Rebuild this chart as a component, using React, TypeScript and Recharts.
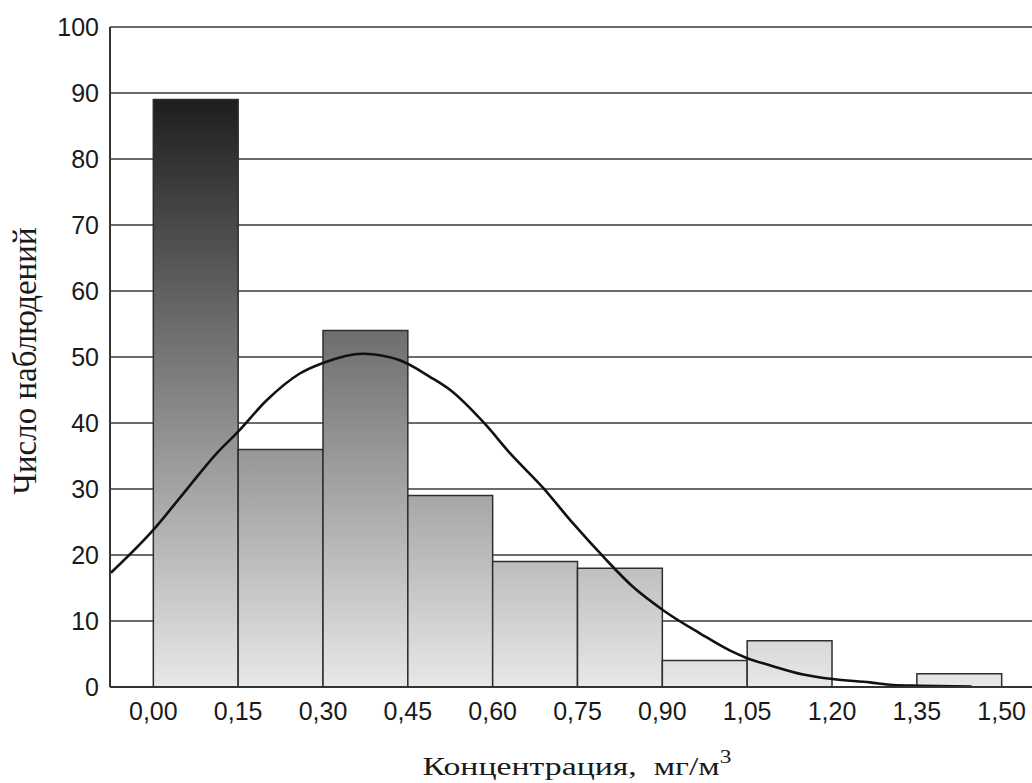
import React from 'react';
import { ComposedChart, Line, XAxis, YAxis, CartesianGrid, ReferenceArea } from 'recharts';

// Histogram bins (mg/m3) and counts
const binStarts = [0.0, 0.15, 0.3, 0.45, 0.6, 0.75, 0.9, 1.05, 1.2, 1.35];
const binEnds = [0.15, 0.3, 0.45, 0.6, 0.75, 0.9, 1.05, 1.2, 1.35, 1.5];
const counts = [89, 36, 54, 29, 19, 18, 4, 7, 0, 2];

// Fitted normal curve
const curveX = [-0.075, 0.0, 0.053, 0.112, 0.15, 0.2, 0.259, 0.3, 0.371, 0.436, 0.489, 0.525, 0.586, 0.631, 0.69, 0.743, 0.796, 0.849, 0.902, 0.967, 1.02, 1.049, 1.09, 1.149, 1.201, 1.267, 1.308, 1.356, 1.447];
const curveY = [17.3, 23.8, 29.3, 35.4, 38.7, 43.4, 47.5, 49.1, 50.5, 49.5, 47.0, 45.0, 39.9, 35.4, 30.1, 24.7, 19.7, 15.1, 11.6, 8.1, 5.5, 4.4, 3.3, 1.9, 1.2, 0.7, 0.3, 0.2, 0.07];

const xTicks = [0.0, 0.15, 0.3, 0.45, 0.6, 0.75, 0.9, 1.05, 1.2, 1.35, 1.5];
const yTicks = [0, 10, 20, 30, 40, 50, 60, 70, 80, 90, 100];
const xDomain = [-0.0766, 1.5536];

const curveData = curveX.map((x, i) => ({ x, y: curveY[i] }));
const bins = binStarts.map((s, i) => ({ s, e: binEnds[i], c: counts[i] }));

const fmt = (v: number) => v.toFixed(2).replace('.', ',');

const XLabel = (props: any) => {
  const vb = props.viewBox;
  const cx = vb.x + vb.width / 2 + 6;
  const y = vb.y + vb.height - 8;
  return (
    <g transform={`translate(${cx}, ${y}) scale(1.3, 1)`}>
      <text x={0} y={0} textAnchor="middle" fontFamily="'Liberation Serif', 'Times New Roman', serif" fontSize={26} fill="#1a1a1a" style={{ whiteSpace: 'pre' }}>
        {'Концентрация,  мг/м'}
        <tspan dy={-12} fontSize={18}>3</tspan>
      </text>
    </g>
  );
};

const YLabel = (props: any) => {
  const vb = props.viewBox;
  const x = 25;
  const cy = vb.y + vb.height / 2 + 4;
  return (
    <text x={x} y={cy} textAnchor="middle" dominantBaseline="central" transform={`rotate(-90, ${x}, ${cy})`} fontFamily="'Liberation Serif', 'Times New Roman', serif" fontSize={33} fill="#1a1a1a">
      Число наблюдений
    </text>
  );
};

export default function App() {
  return (
    <div style={{ position: 'absolute', left: 0, top: 0, width: 1032, height: 783, background: '#fff' }}>
      <ComposedChart width={1032} height={783} data={curveData} margin={{ top: 27, right: 0, bottom: 0, left: 0 }}>
        <defs>
          <linearGradient id="barGrad" gradientUnits="userSpaceOnUse" x1={0} y1={27} x2={0} y2={687}>
            <stop offset="0%" stopColor="#050505" />
            <stop offset="100%" stopColor="#e8e8e8" />
          </linearGradient>
        </defs>
        <CartesianGrid vertical={false} stroke="#3a3a3a" strokeWidth={1.3} />
        <XAxis
          dataKey="x"
          type="number"
          domain={xDomain}
          allowDataOverflow
          ticks={xTicks}
          tickFormatter={fmt}
          tickLine={false}
          tickMargin={9}
          height={96}
          axisLine={{ stroke: '#333', strokeWidth: 2 }}
          tick={{ fontFamily: "'Liberation Sans', Arial, sans-serif", fontSize: 25, fill: '#1a1a1a' }}
          label={<XLabel />}
        />
        <XAxis
          xAxisId="top"
          orientation="top"
          type="number"
          domain={xDomain}
          allowDataOverflow
          ticks={xTicks}
          mirror
          height={0}
          tickSize={5}
          tick={() => <g />}
          tickLine={{ stroke: '#333', strokeWidth: 1.3 }}
          axisLine={{ stroke: '#333', strokeWidth: 2 }}
        />
        <YAxis
          type="number"
          domain={[0, 100]}
          ticks={yTicks}
          width={110}
          tickLine={false}
          tickMargin={5}
          axisLine={{ stroke: '#333', strokeWidth: 2 }}
          tick={{ fontFamily: "'Liberation Sans', Arial, sans-serif", fontSize: 25, fill: '#1a1a1a' }}
          label={<YLabel />}
        />
        {bins.filter(b => b.c > 0).map((b, i) => (
          <ReferenceArea
            key={i}
            x1={b.s}
            x2={b.e}
            y1={0}
            y2={b.c}
            fill="url(#barGrad)"
            fillOpacity={1}
            stroke="#2e2e2e"
            strokeWidth={1.5}
          />
        ))}
        <Line
          dataKey="y"
          type="monotone"
          stroke="#111"
          strokeWidth={2.6}
          dot={false}
          activeDot={false}
          isAnimationActive={false}
        />
      </ComposedChart>
    </div>
  );
}
